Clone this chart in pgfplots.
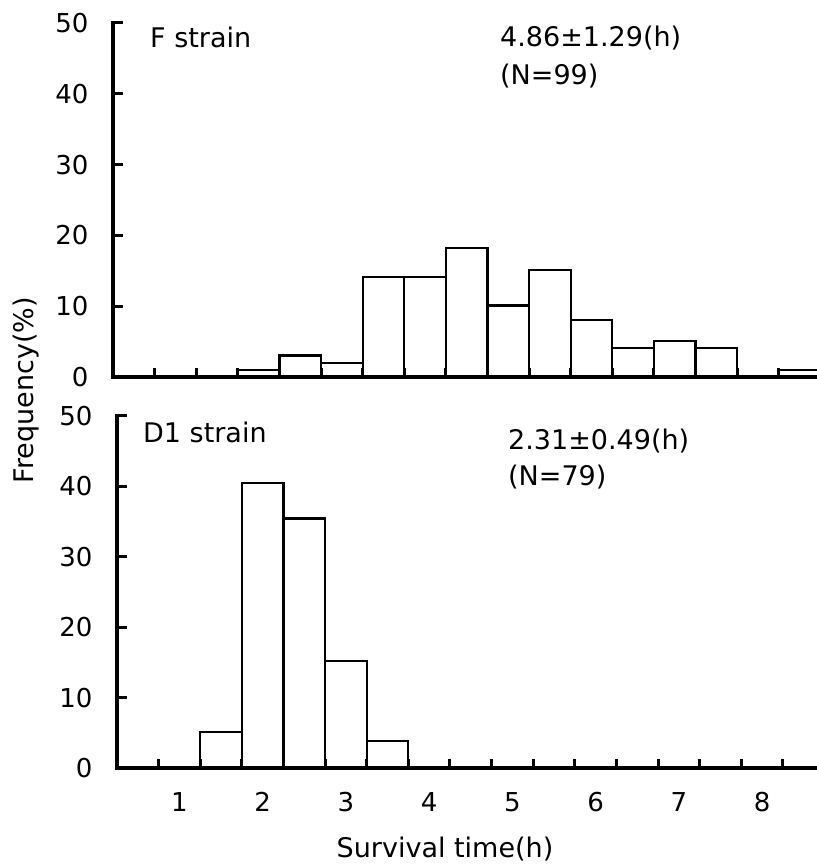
\documentclass[border=0pt]{standalone}
\usepackage{fontspec}
\setmainfont{DejaVu Sans}
\usepackage{pgfplots}
\pgfplotsset{compat=1.18}
\begin{document}
\begin{tikzpicture}[x=1pt,y=1pt]
\useasboundingbox (0,0) rectangle (817,868);
\pgfplotsset{
  hist/.style={
    scale only axis,
    axis on top,
    axis x line*=bottom, axis y line*=left,
    every outer x axis line/.append style={line width=3.6pt, -, line cap=rect},
    every outer y axis line/.append style={line width=3.6pt, -, line cap=rect},
    xmin=0.25, ymin=0, ymax=50,
    ytick={0,10,...,50},
    tick align=inside,
    major tick length=10pt,
    minor tick length=9pt,
    tick style={line width=3pt, black},
    xtick={1,...,8},
    minor xtick={0.75,1.25,...,8.25},
    major x tick style={draw=none},
    /pgf/number format/assume math mode=true,
    tick label style={font=\fontsize{26}{30}\selectfont},
    yticklabel style={xshift=-21pt},
    xticklabel style={yshift=-21pt},
    clip=true,
  },
  hbar/.style={ybar, bar width=0.5, bar shift=0pt, fill=white, draw=black, line width=2.2pt},
}
% Top panel: F strain
\begin{axis}[hist, at={(113pt,491pt)}, anchor=south west,
  width=704pt, height=354pt, xmax=8.71, xticklabels={}]
\addplot[hbar] coordinates {
 (2,1.01) (2.5,3.03) (3,2.02) (3.5,14.14) (4,14.14) (4.5,18.18)
 (5,10.10) (5.5,15.15) (6,8.08) (6.5,4.04) (7,5.05) (7.5,4.04) (8.5,1.01)
};
\end{axis}
% Bottom panel: D1 strain
\begin{axis}[hist, at={(117pt,100pt)}, anchor=south west,
  width=700pt, height=352pt, xmax=8.66]
\addplot[hbar] coordinates {
 (1.5,5.06) (2,40.51) (2.5,35.44) (3,15.19) (3.5,3.80)
};
\end{axis}
\begin{scope}[every node/.style={font=\fontsize{27}{31}\selectfont, inner sep=0pt}]
\node[anchor=base west] at (150,820) {F strain};
\node[anchor=base west] at (500,821) {4.86±1.29(h)};
\node[anchor=base west] at (500,783) {(N=99)};
\node[anchor=base west] at (143,425) {D1 strain};
\node[anchor=base west] at (508,418) {2.31±0.49(h)};
\node[anchor=base west] at (508,382) {(N=79)};
\node[rotate=90] at (26,478) {Frequency(\%)};
\node[anchor=base] at (445,10) {Survival time(h)};
\end{scope}
\end{tikzpicture}
\end{document}
